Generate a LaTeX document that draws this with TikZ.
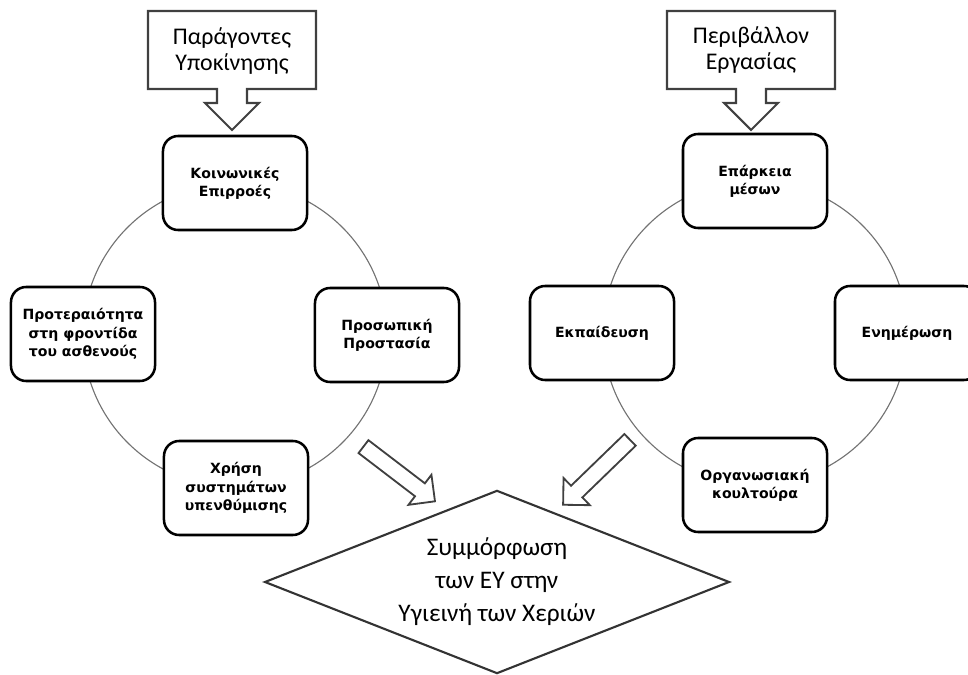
\documentclass[tikz,border=0pt]{standalone}
\usepackage{fontspec}
\setmainfont{Carlito}
\newfontfamily\boxfont{DejaVu Sans}
\usetikzlibrary{shapes.geometric,shapes.arrows}

\tikzset{
	factor/.style={draw=black, line width=1.8pt, rounded corners=0.38cm, fill=white,
		minimum width=3.6cm, minimum height=2.35cm, align=center,
		font=\boxfont\bfseries\fontsize{10}{13}\selectfont},
	callout/.style={draw=black!75, line width=1.5pt},
	ring/.style={draw=black!55, line width=0.8pt},
	bigarrow/.style={single arrow, draw=black!75, line width=1.3pt, inner sep=0.18cm,
		single arrow head extend=0.27cm},
}

\begin{document}
\begin{tikzpicture}[x=0.025cm,y=-0.025cm]
	\useasboundingbox (0,0) rectangle (968,675);
	% the two circles
	\draw[ring] (235,335) circle (3.8cm);
	\draw[ring] (755,333) circle (3.8cm);
	% callouts on top
	\foreach \cx in {232,751} {
		\draw[callout] (\cx-84,11) -- (\cx+84,11) -- (\cx+84,89) -- (\cx+15,89) -- (\cx+15,103)
			-- (\cx+27,103) -- (\cx,130) -- (\cx-27,103) -- (\cx-15,103) -- (\cx-15,89)
			-- (\cx-84,89) -- cycle;}
	\node[font=\fontsize{17}{18.5}\selectfont, align=center] (motiv) at (232,51) {Παράγοντες\\Υποκίνησης};
	\node[font=\fontsize{17}{18.5}\selectfont, align=center] (envir) at (751,50) {Περιβάλλον\\Εργασίας};
	% left circle
	\node[factor] (social) at (235,183) {Κοινωνικές\\Επιρροές};
	\node[factor] (protect) at (387,335) {Προσωπική\\Προστασία};
	\node[factor] (priority) at (83,334) {Προτεραιότητα\\στη φροντίδα\\του ασθενούς};
	\node[factor] (remind) at (236,488) {Χρήση\\συστημάτων\\υπενθύμισης};
	% right circle
	\node[factor] (means) at (755,181) {Επάρκεια\\μέσων};
	\node[factor] (train) at (602,333) {Εκπαίδευση};
	\node[factor] (inform) at (907,333) {Ενημέρωση};
	\node[factor] (culture) at (755,485) {Οργανωσιακή\\κουλτούρα};
	% arrows to the goal
	\node[bigarrow, minimum height=2.25cm, rotate=-37.4] (larrow) at (396,471.5) {};
	\node[bigarrow, minimum height=2.33cm, rotate=-135.9] (rarrow) at (599.5,469.5) {};
	\node[diamond, draw=black!80, line width=1.5pt, minimum width=11.62cm, minimum height=4.58cm,
		aspect=2.5, inner sep=0pt, align=center, font=\fontsize{18}{23.5}\selectfont]
		(goal) at (497,582) {Συμμόρφωση\\των ΕΥ στην\\Υγιεινή των Χεριών};
\end{tikzpicture}
\end{document}
